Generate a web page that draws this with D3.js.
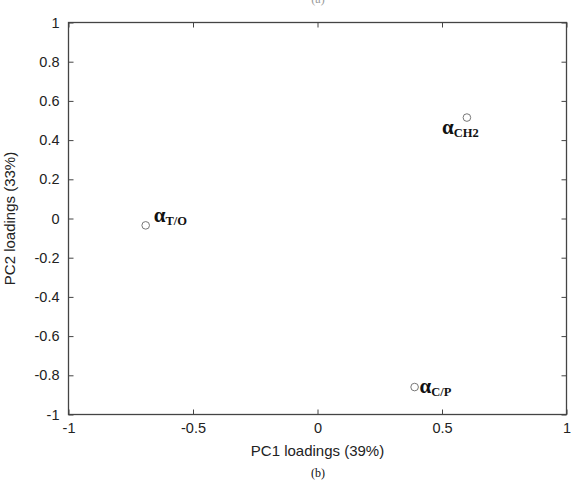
<!DOCTYPE html>
<html>
<head>
<meta charset="utf-8">
<script src="https://cdn.jsdelivr.net/npm/d3@7"></script>
<style>
  body { margin: 0; background: #fff; }
  svg { display: block; }
  .axis text { font-family: Arial, "Liberation Sans", sans-serif; font-size: 14.5px; fill: #222; }
  .axis path, .axis line { stroke: #444; }
</style>
</head>
<body>
<svg id="chart" width="571" height="487"></svg>
<script>
// data
const names = ["CH2", "T/O", "C/P"];
const pc1 = [0.60, -0.69, 0.39];
const pc2 = [0.515, -0.035, -0.86];
const xTicks = [-1, -0.5, 0, 0.5, 1];
const yTicks = [-1, -0.8, -0.6, -0.4, -0.2, 0, 0.2, 0.4, 0.6, 0.8, 1];
// label offsets relative to the point (dx, dy of the alpha glyph)
const labelDx = [-25, 8, 5];
const labelDy = [16, -3, 6];

const svg = d3.select("#chart");
const plot = { left: 68.5, top: 22.5, right: 566.5, bottom: 414.5 };

const x = d3.scaleLinear().domain([-1, 1]).range([plot.left, plot.right]);
const y = d3.scaleLinear().domain([-1, 1]).range([plot.bottom, plot.top]);

// plain hyphen for negatives, like the original
const fmt = d => String(+d.toFixed(2));

// bottom / left axes with inward ticks
svg.append("g")
  .attr("class", "axis")
  .attr("transform", `translate(0,${plot.bottom})`)
  .call(d3.axisBottom(x).tickValues(xTicks).tickSize(-5).tickSizeOuter(0).tickPadding(8).tickFormat(fmt))
  .call(g => g.select(".domain").remove());

svg.append("g")
  .attr("class", "axis")
  .attr("transform", `translate(${plot.left},0)`)
  .call(d3.axisLeft(y).tickValues(yTicks).tickSize(-5).tickSizeOuter(0).tickPadding(9).tickFormat(fmt))
  .call(g => g.select(".domain").remove());

// mirrored ticks on top / right
svg.append("g")
  .attr("class", "axis")
  .attr("transform", `translate(0,${plot.top})`)
  .call(d3.axisTop(x).tickValues(xTicks).tickSize(-5).tickSizeOuter(0).tickFormat(""))
  .call(g => g.select(".domain").remove());

svg.append("g")
  .attr("class", "axis")
  .attr("transform", `translate(${plot.right},0)`)
  .call(d3.axisRight(y).tickValues(yTicks).tickSize(-5).tickSizeOuter(0).tickFormat(""))
  .call(g => g.select(".domain").remove());

// frame
svg.append("rect")
  .attr("x", plot.left).attr("y", plot.top)
  .attr("width", plot.right - plot.left).attr("height", plot.bottom - plot.top)
  .attr("fill", "none").attr("stroke", "#444").attr("stroke-width", 1.3);

// points
svg.selectAll("circle.pt")
  .data(names)
  .join("circle")
  .attr("class", "pt")
  .attr("cx", (d, i) => x(pc1[i]))
  .attr("cy", (d, i) => y(pc2[i]))
  .attr("r", 3.8)
  .attr("fill", "none")
  .attr("stroke", "#777")
  .attr("stroke-width", 1);

// labels: bold alpha with subscript
const lab = svg.selectAll("text.lab")
  .data(names)
  .join("text")
  .attr("class", "lab")
  .attr("x", (d, i) => x(pc1[i]) + labelDx[i])
  .attr("y", (d, i) => y(pc2[i]) + labelDy[i])
  .attr("font-family", "'Liberation Serif', 'Times New Roman', serif")
  .attr("font-weight", "bold")
  .attr("fill", "#111");

lab.append("tspan").attr("font-size", 21).text("α");
lab.append("tspan").attr("font-size", 12.5).attr("dy", 3).text(d => d);

// axis titles
svg.append("text")
  .attr("x", (plot.left + plot.right) / 2)
  .attr("y", 456)
  .attr("text-anchor", "middle")
  .attr("font-family", "Arial, 'Liberation Sans', sans-serif")
  .attr("font-size", 15)
  .attr("fill", "#222")
  .text("PC1 loadings (39%)");

svg.append("text")
  .attr("transform", `translate(15,${(plot.top + plot.bottom) / 2}) rotate(-90)`)
  .attr("text-anchor", "middle")
  .attr("font-family", "Arial, 'Liberation Sans', sans-serif")
  .attr("font-size", 15)
  .attr("fill", "#222")
  .text("PC2 loadings (33%)");

// panel captions
svg.append("text")
  .attr("x", 318).attr("y", 477)
  .attr("text-anchor", "middle")
  .attr("font-family", "'Liberation Serif', 'Times New Roman', serif")
  .attr("font-size", 12)
  .attr("fill", "#111")
  .text("(b)");

// caption of the panel above, mostly cut off at the top edge in the original
svg.append("text")
  .attr("x", 318).attr("y", 3)
  .attr("text-anchor", "middle")
  .attr("font-family", "'Liberation Serif', 'Times New Roman', serif")
  .attr("font-size", 12)
  .attr("fill", "#999")
  .text("(a)");
</script>
</body>
</html>
